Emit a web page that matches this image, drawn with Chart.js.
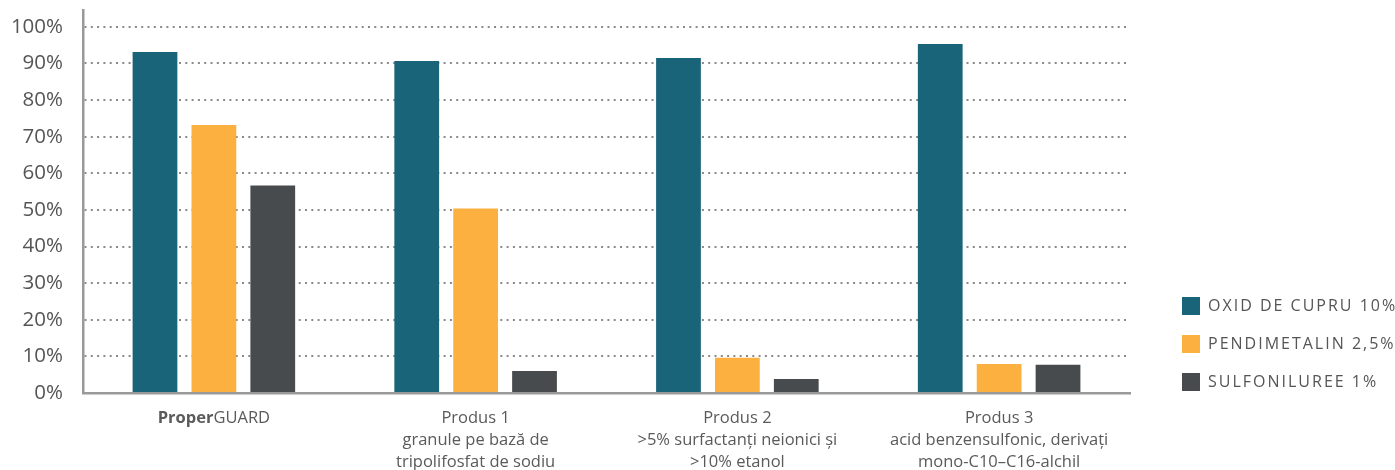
<!DOCTYPE html>
<html><head><meta charset="utf-8">
<script src="https://cdn.jsdelivr.net/npm/chart.js@4"></script>
<style>html,body{margin:0;padding:0;background:#fff}#wrap{width:1395px;height:470px}</style>
</head><body><div id="wrap"><canvas id="c" width="1395" height="470"></canvas></div>
<script>
const categories = [
  ['ProperGUARD'],
  ['Produs 1', 'granule pe bază de', 'tripolifosfat de sodiu'],
  ['Produs 2', '>5% surfactanți neionici și', '>10% etanol'],
  ['Produs 3', 'acid benzensulfonic, derivați', 'mono-C10–C16-alchil']
];
const seriesNames = ['OXID DE CUPRU 10%', 'PENDIMETALIN 2,5%', 'SULFONILUREE 1%'];
const oxidCupru = [93.1, 90.7, 91.5, 95.3];
const pendimetalin = [73.2, 50.4, 9.6, 7.9];
const sulfoniluree = [56.7, 6.0, 3.8, 7.7];
const yTickValues = [0, 10, 20, 30, 40, 50, 60, 70, 80, 90, 100];
const colors = ['#196479', '#fcb040', '#474b4d'];

const FONT = "'Open Sans', 'DejaVu Sans', sans-serif";
const xFont = { family: FONT, size: 16.5, lineHeight: 1.33 };

const properLabel = {
  id: 'properLabel',
  afterDraw(chart) {
    const xs = chart.scales.x;
    const ctx = chart.ctx;
    const px = xs.getPixelForTick(0);
    const lh = xFont.size * xFont.lineHeight;
    const y = xs.top + xs.options.ticks.padding + lh / 2;
    ctx.save();
    ctx.fillStyle = '#5a5a5a';
    ctx.textBaseline = 'middle';
    ctx.textAlign = 'left';
    ctx.font = `700 ${xFont.size}px ${FONT}`;
    const w1 = ctx.measureText('Proper').width;
    ctx.font = `400 ${xFont.size}px ${FONT}`;
    const w2 = ctx.measureText('GUARD').width;
    const x0 = px - (w1 + w2) / 2;
    ctx.font = `700 ${xFont.size}px ${FONT}`;
    ctx.fillText('Proper', x0, y);
    ctx.font = `400 ${xFont.size}px ${FONT}`;
    ctx.fillText('GUARD', x0 + w1, y);
    ctx.restore();
  }
};

const legendPatch = {
  id: 'legendPatch',
  beforeLayout(chart) {
    const lg = chart.legend;
    if (lg && !lg._patched) {
      const origFit = lg.fit.bind(lg);
      lg.fit = function () { origFit(); this.width = 265; };
      const origDraw = lg.draw.bind(lg);
      lg.draw = function () {
        const ctx = chart.ctx;
        ctx.save();
        try { ctx.letterSpacing = '2px'; } catch (e) {}
        ctx.translate(32, -59);
        origDraw();
        ctx.restore();
      };
      lg._patched = true;
    }
  }
};

new Chart(document.getElementById('c'), {
  type: 'bar',
  data: {
    labels: categories,
    datasets: [
      { label: seriesNames[0], data: oxidCupru, backgroundColor: colors[0] },
      { label: seriesNames[1], data: pendimetalin, backgroundColor: colors[1] },
      { label: seriesNames[2], data: sulfoniluree, backgroundColor: colors[2] }
    ]
  },
  options: {
    responsive: false,
    animation: false,
    devicePixelRatio: 1,
    layout: { padding: { top: 10, right: 0, bottom: 0, left: 0 } },
    datasets: { bar: { categoryPercentage: 0.675, barPercentage: 0.76 } },
    plugins: {
      tooltip: { enabled: false },
      legend: {
        position: 'right',
        align: 'end',
        labels: {
          boxWidth: 18, boxHeight: 18, padding: 20,
          color: '#555',
          font: { family: FONT, size: 16 }
        }
      }
    },
    scales: {
      x: {
        grid: { display: false, drawTicks: false },
        border: { display: true, color: '#999', width: 2.5 },
        ticks: {
          padding: 14,
          color: (c) => c.index === 0 ? 'rgba(0,0,0,0)' : '#5a5a5a',
          font: xFont,
          maxRotation: 0, autoSkip: false
        },
        afterFit(s) { s.height = 77; s.paddingLeft = 0; s.paddingRight = 0; }
      },
      y: {
        min: 0, max: 104.6,
        afterBuildTicks(s) { s.ticks = yTickValues.map(v => ({ value: v })); },
        grid: {
          color: '#8a8a8a', lineWidth: 2, drawTicks: false
        },
        border: { display: true, color: '#999', width: 2.5, dash: [2, 4.3] },
        ticks: {
          padding: 20,
          color: '#555',
          font: { family: FONT, size: 20.5 },
          callback: (v) => v + '%'
        },
        afterFit(s) { s.width = 83; s.paddingTop = 0; s.paddingBottom = 0; }
      }
    }
  },
  plugins: [properLabel, legendPatch]
});
</script>
</body></html>
